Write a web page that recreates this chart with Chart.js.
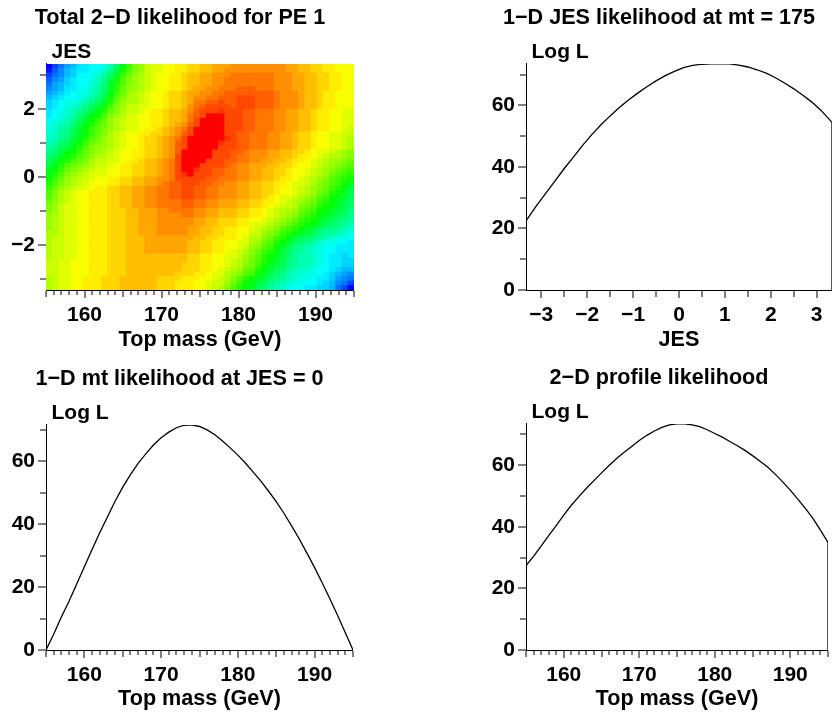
<!DOCTYPE html>
<html>
<head>
<meta charset="utf-8">
<script src="https://cdn.jsdelivr.net/npm/chart.js@4.4.1/dist/chart.umd.min.js"></script>
<style>
  html, body { margin: 0; background: #fff; }
  #page { position: relative; width: 833px; height: 715px; }
  canvas { position: absolute; }
</style>
</head>
<body>
<div id="page">
  <canvas id="c2d" width="416" height="357" style="left:0;top:0"></canvas>
  <canvas id="cjes" width="417" height="357" style="left:416px;top:0"></canvas>
  <canvas id="cmt" width="416" height="358" style="left:0;top:357px"></canvas>
  <canvas id="cprof" width="417" height="358" style="left:416px;top:357px"></canvas>
</div>
<script>
// top mass axis (GeV) and 2-D histogram bins
var massRange = [155, 195];
var massBins = [155.4, 156.2, 157.0, 157.8, 158.6, 159.4, 160.2, 161.0, 161.8, 162.6,
  163.4, 164.2, 165.0, 165.8, 166.6, 167.4, 168.2, 169.0, 169.8, 170.6,
  171.4, 172.2, 173.0, 173.8, 174.6, 175.4, 176.2, 177.0, 177.8, 178.6,
  179.4, 180.2, 181.0, 181.8, 182.6, 183.4, 184.2, 185.0, 185.8, 186.6,
  187.4, 188.2, 189.0, 189.8, 190.6, 191.4, 192.2, 193.0, 193.8, 194.6];
var jesEdges = [-3.333, -3.2, -3.067, -2.933, -2.8, -2.667, -2.533, -2.4, -2.267, -2.133,
  -2.0, -1.867, -1.733, -1.6, -1.467, -1.333, -1.2, -1.067, -0.933, -0.8,
  -0.667, -0.533, -0.4, -0.267, -0.133, 0, 0.133, 0.267, 0.4, 0.533,
  0.667, 0.8, 0.933, 1.067, 1.2, 1.333, 1.467, 1.6, 1.733, 1.867,
  2.0, 2.133, 2.267, 2.4, 2.533, 2.667, 2.8, 2.933, 3.067, 3.2, 3.333];

// colour-scale value of each cell, rows from JES = -3.3 (bottom) to +3.3 (top)
var colzRange = [0, 50];
var colzGrid = [
  [35,36,37,37,38,38,39,39,39,40,40,40,41,41,41,41,41,41,40,40,40,39,39,39,38,38,37,36,35,33,31,29,27,26,24,23,21,20,19,18,17,17,16,16,15,15,14,11,9,6],
  [35,36,37,37,38,38,39,39,39,40,40,40,41,41,41,41,41,41,40,40,40,39,39,39,38,38,37,36,36,34,32,30,28,27,25,24,22,21,20,19,18,18,17,17,16,15,14,12,11,9],
  [35,36,37,37,38,38,39,39,39,40,40,40,41,41,41,41,41,41,40,40,40,40,39,39,39,38,38,37,36,35,33,31,29,28,26,25,23,22,21,20,19,18,18,17,16,16,15,13,12,11],
  [36,36,37,37,38,38,38,39,39,39,40,40,40,41,41,41,41,41,41,41,41,40,40,40,39,39,38,37,37,35,34,33,31,30,28,26,24,23,22,20,19,19,18,18,17,16,15,14,13,12],
  [36,36,37,37,38,38,38,39,39,39,40,40,40,41,41,41,41,41,41,41,41,41,40,40,40,39,39,38,37,36,35,34,32,31,29,27,25,24,23,21,20,19,19,18,17,17,16,15,14,14],
  [36,36,37,37,38,38,38,39,39,39,40,40,40,41,41,41,41,41,41,41,41,41,40,40,40,39,39,38,38,37,36,35,33,32,30,28,26,25,24,22,21,20,20,19,18,17,16,16,15,15],
  [36,36,37,37,38,38,38,39,39,39,40,40,40,41,41,41,41,41,41,41,41,41,41,40,40,39,39,38,38,37,36,35,34,32,31,29,27,26,24,22,21,20,20,19,18,17,16,16,15,15],
  [35,36,36,37,37,38,38,39,39,39,40,40,40,41,41,41,41,41,41,41,41,41,41,40,40,39,39,38,38,37,37,36,34,33,31,29,28,26,25,23,21,20,20,19,18,17,16,16,15,16],
  [35,36,36,37,37,38,38,39,39,39,40,40,40,41,41,41,42,42,42,42,42,42,42,41,41,40,40,39,39,38,37,36,35,33,32,30,29,27,25,23,22,21,20,19,18,17,17,16,16,16],
  [35,36,36,37,37,38,38,39,39,39,40,40,40,41,41,41,42,42,42,42,42,42,42,41,41,40,40,39,39,38,38,37,36,34,33,31,30,28,26,24,22,21,20,19,18,17,17,16,16,16],
  [35,36,36,37,37,38,38,39,39,39,40,40,40,41,41,41,42,42,42,42,42,42,42,41,41,40,40,39,39,38,38,37,37,35,34,32,31,29,27,26,24,23,22,21,19,18,18,17,17,16],
  [35,36,36,37,37,38,38,39,39,39,40,40,40,41,41,41,42,42,42,42,42,42,42,42,41,41,40,40,39,39,39,38,37,35,35,33,32,30,29,27,25,24,23,22,21,20,19,18,18,17],
  [35,35,36,37,37,38,38,39,39,39,40,40,40,41,41,42,42,42,43,43,43,43,43,42,42,41,41,40,40,39,39,38,38,36,36,34,33,32,30,29,27,26,25,24,22,21,21,20,19,18],
  [34,35,36,37,37,38,38,39,39,39,40,40,40,41,41,42,42,42,43,43,43,43,43,42,42,41,41,40,40,39,39,38,38,37,36,35,34,33,31,30,29,27,26,25,23,22,22,21,20,19],
  [34,35,36,37,37,38,38,39,39,39,40,40,40,41,41,42,42,42,43,43,43,43,43,43,42,42,41,41,40,40,40,39,39,37,37,36,35,34,33,32,30,29,28,27,25,24,23,22,21,20],
  [34,35,36,37,37,38,38,39,39,39,40,40,40,41,41,42,42,42,43,43,43,43,43,43,42,42,41,41,40,40,40,39,39,38,38,37,36,35,34,33,32,30,29,28,26,25,24,23,22,21],
  [34,35,36,37,37,38,38,39,39,39,40,40,40,41,41,42,42,42,43,43,43,43,44,44,43,43,42,42,41,41,41,40,40,39,39,38,37,36,35,34,33,31,30,29,27,26,25,24,23,22],
  [33,34,36,37,37,38,38,39,39,39,40,40,40,41,41,42,42,42,43,43,44,44,44,44,43,43,42,42,41,41,41,40,40,39,39,38,37,36,35,35,34,32,31,30,28,27,26,25,24,22],
  [33,34,36,37,37,38,38,39,39,39,40,40,41,41,42,42,43,43,44,44,44,44,45,45,44,44,43,43,42,42,42,41,41,40,40,39,38,37,36,36,35,33,32,31,29,28,27,26,24,23],
  [32,34,35,36,37,38,38,39,39,39,40,40,41,41,42,42,43,43,44,44,44,44,45,45,44,44,43,43,42,42,42,41,41,40,40,39,39,38,37,36,35,34,33,32,30,29,27,26,25,23],
  [31,33,35,36,37,38,38,39,39,39,40,40,41,41,42,42,43,43,44,44,45,45,46,46,45,45,44,44,43,43,43,42,42,41,41,40,39,38,37,37,36,35,34,33,31,30,28,27,25,24],
  [31,33,35,36,37,38,38,39,39,39,40,40,41,41,42,42,43,43,44,44,45,45,46,46,45,45,44,44,43,43,43,42,42,41,41,40,40,39,38,38,37,36,35,34,32,31,29,28,26,24],
  [30,32,34,35,36,37,37,38,39,39,40,40,41,41,42,42,43,43,44,44,45,45,46,46,45,45,44,44,43,43,43,42,42,41,41,40,40,39,38,38,37,36,35,34,33,32,30,29,27,25],
  [29,31,33,34,35,36,37,38,38,38,39,39,40,40,41,41,42,42,43,44,45,45,46,46,46,45,45,44,44,43,43,42,42,41,41,40,40,39,39,38,37,37,36,35,33,32,31,30,28,26],
  [28,30,32,34,35,36,36,37,38,38,39,39,40,40,41,41,42,42,43,43,44,46,46,46,46,46,45,45,44,44,44,43,43,42,42,41,41,40,39,39,38,37,36,35,34,33,31,30,29,28],
  [27,29,31,33,34,35,36,37,37,37,38,38,39,39,40,40,41,41,42,43,44,46,47,49,46,46,46,45,45,44,44,43,43,42,42,41,41,40,40,39,38,38,37,36,35,34,32,31,30,29],
  [26,28,30,32,33,34,35,36,37,37,38,38,39,39,40,40,41,41,42,43,44,46,49,49,47,46,46,45,45,44,44,43,43,42,42,41,41,40,40,39,38,38,37,36,35,34,33,32,31,30],
  [25,27,29,31,32,33,34,35,36,36,37,38,39,39,40,40,41,41,42,43,44,46,49,49,49,46,46,46,46,45,44,43,43,42,42,42,41,41,40,40,39,38,38,37,36,35,34,33,32,31],
  [24,26,28,29,31,32,33,35,36,36,37,37,38,39,39,40,41,41,42,43,44,46,49,49,49,49,46,46,46,45,45,44,44,43,43,42,42,41,41,40,39,39,38,37,36,35,34,34,33,32],
  [23,24,26,28,29,31,32,34,35,35,36,37,38,38,39,39,40,40,41,42,43,46,49,49,49,49,49,46,46,46,45,44,44,43,43,43,42,42,41,41,40,39,39,38,37,36,35,35,34,33],
  [22,23,25,27,28,30,32,33,34,35,36,37,38,38,39,39,40,40,41,42,43,45,49,49,49,49,49,46,46,46,45,45,44,43,43,43,42,42,41,41,40,40,39,38,37,37,36,35,34,33],
  [21,22,24,25,27,29,31,33,34,34,35,36,37,38,38,39,40,40,41,42,43,45,46,49,49,49,49,49,46,46,46,45,45,44,44,44,43,43,42,42,41,40,40,39,38,38,37,37,36,35],
  [20,21,23,24,26,28,30,32,33,34,35,36,37,38,38,39,40,40,41,42,43,45,46,49,49,49,49,49,47,46,46,45,45,44,44,44,43,43,42,42,41,40,40,39,38,38,37,37,36,35],
  [19,20,22,23,25,27,29,31,32,34,35,36,37,38,38,39,40,40,41,42,43,44,46,49,49,49,49,49,49,47,46,45,45,44,44,44,43,43,42,42,41,40,40,39,38,38,37,37,36,35],
  [19,20,21,22,24,26,28,30,32,33,35,36,37,38,38,39,39,40,40,41,42,43,45,46,49,49,49,49,49,46,46,45,45,44,44,44,43,43,42,42,41,40,40,39,38,38,37,37,36,36],
  [18,19,21,22,24,26,28,30,31,33,34,35,36,37,37,38,39,39,40,41,42,43,44,46,49,49,49,49,49,46,46,46,45,45,44,44,44,43,43,42,42,41,41,40,39,39,38,38,37,36],
  [18,19,20,21,23,25,27,29,31,32,34,35,36,37,37,38,38,39,39,40,41,42,43,45,46,49,49,49,49,46,46,46,45,45,44,44,44,43,43,42,42,41,41,40,39,39,38,38,37,37],
  [17,18,19,20,22,24,26,28,30,32,34,35,36,37,37,38,38,39,39,40,41,41,42,44,46,49,49,49,49,46,46,46,45,45,44,44,44,43,43,42,42,41,41,40,39,39,38,38,37,37],
  [16,17,18,19,21,23,25,27,28,31,33,34,35,37,37,38,38,39,39,40,41,41,42,44,45,46,49,49,49,46,46,46,45,45,44,44,44,43,43,42,42,41,41,40,39,39,38,38,37,37],
  [16,17,18,19,20,22,23,25,27,29,32,33,35,36,36,37,38,39,39,40,41,41,42,43,45,46,46,46,47,46,46,46,45,45,44,44,44,43,43,42,42,41,41,40,39,39,38,38,37,37],
  [15,16,17,18,19,20,22,24,25,28,30,33,34,36,36,37,37,38,38,39,40,40,41,43,44,45,46,46,46,46,45,46,46,46,45,45,45,44,43,43,43,42,41,41,40,39,39,38,38,38],
  [15,16,17,18,18,19,20,22,24,26,29,32,34,35,35,36,37,38,38,39,40,40,41,42,44,44,45,45,46,45,45,46,46,46,45,45,45,44,43,43,43,42,41,41,40,39,39,38,38,38],
  [14,15,16,17,17,18,19,21,22,25,28,31,33,35,35,36,37,38,38,39,40,40,41,42,43,43,44,44,45,45,45,46,46,46,45,45,45,44,43,43,43,42,41,41,40,39,39,38,38,38],
  [13,14,15,16,17,18,18,20,21,24,27,30,32,34,35,36,37,38,38,39,40,40,41,42,42,43,43,44,44,45,45,45,45,45,45,45,45,44,43,43,43,42,41,41,40,39,39,38,38,38],
  [12,13,14,16,16,17,18,19,21,23,26,29,32,34,34,35,36,37,38,38,39,39,40,41,42,42,43,43,44,44,44,45,45,45,44,44,44,43,43,43,42,42,41,41,40,40,39,39,38,38],
  [11,13,14,15,16,17,17,19,20,23,26,29,31,33,34,35,36,37,38,38,39,39,40,41,41,42,42,43,43,44,44,44,44,44,44,44,44,43,43,43,42,42,41,41,40,40,39,39,38,38],
  [10,12,13,15,16,17,17,18,20,22,25,28,31,33,34,35,36,37,38,38,39,39,40,41,41,42,42,43,43,44,44,44,44,44,44,44,44,43,43,43,42,42,41,41,40,40,39,39,38,38],
  [9,11,12,14,15,17,17,18,19,21,23,26,30,32,34,35,36,37,38,38,39,39,40,41,41,42,42,43,43,43,44,44,44,44,44,44,44,43,43,43,42,42,41,41,40,40,39,39,38,38],
  [7,10,12,14,15,16,16,17,18,19,22,25,28,31,33,34,36,37,37,38,38,39,39,40,40,41,41,42,42,43,43,43,43,43,43,43,43,43,43,42,42,41,41,40,40,39,39,38,38,38],
  [6,9,11,13,14,16,16,17,17,18,20,23,27,30,33,34,36,37,37,38,38,39,39,40,40,41,41,42,42,42,43,43,43,43,43,43,43,43,43,42,42,41,41,40,40,39,39,38,38,38]
];

// 1-D JES slice at mt = 175
var jesPoints = [-3.333, -3.1, -2.9, -2.7, -2.5, -2.3, -2.1, -1.9, -1.7, -1.5, -1.3, -1.1, -0.9, -0.7, -0.5, -0.3, -0.1,
  0.1, 0.3, 0.5, 0.7, 0.9, 1.1, 1.3, 1.5, 1.7, 1.9, 2.1, 2.3, 2.5, 2.7, 2.9, 3.1, 3.333, 3.333];
var jesLogL = [22.5, 27.5, 31.5, 35.5, 39.5, 43.2, 47, 50.5, 53.7, 56.6, 59.3, 61.8, 64, 66.1, 68, 69.7, 71.1,
  72.3, 73.0, 73.4, 73.5, 73.5, 73.5, 73.1, 72.5, 71.6, 70.5, 69, 67.3, 65.4, 63.3, 61, 58.3, 54.5, 0];

// 1-D mt slice at JES = 0
var mtPoints = [155, 156, 157, 158, 159, 160, 161, 162, 163, 164, 165, 166, 167, 168, 169, 170, 171, 172, 173, 174,
  175, 176, 177, 178, 179, 180, 181, 182, 183, 184, 185, 186, 187, 188, 189, 190, 191, 192, 193, 194, 195];
var mtLogL = [0, 5, 10.5, 15.5, 21, 26.5, 32, 37.3, 42.3, 47.3, 51.8, 55.8, 59.4, 62.4, 65.2, 67.5, 69.3, 70.7, 71.5, 71.6,
  71.1, 70, 68.5, 66.5, 64.3, 62, 59.4, 56.6, 53.7, 50.5, 47.2, 43.5, 39.5, 35.3, 30.8, 26.2, 21.3, 16.2, 11, 5.5, 0];

// 2-D profile likelihood
var profilePoints = [155, 156, 157, 158, 159, 160, 161, 162, 163, 164, 165, 166, 167, 168, 169, 170, 171, 172, 173, 174,
  175, 176, 177, 178, 179, 180, 181, 182, 183, 184, 185, 186, 187, 188, 189, 190, 191, 192, 193, 194, 195, 195];
var profileLogL = [27.4, 30.4, 33.7, 37.1, 40.4, 43.8, 47, 49.8, 52.5, 55, 57.5, 59.9, 62.2, 64.2, 66.1, 68, 69.7, 71.1, 72.3, 73.1,
  73.4, 73.4, 73.1, 72.5, 71.5, 70.3, 69.1, 67.7, 66.3, 64.8, 63.1, 61.3, 59.4, 57.1, 54.6, 51.9, 49, 46, 42.7, 38.9, 34.9, 0];

var font = {family: '"Liberation Sans", Arial, Helvetica, sans-serif', size: 21, weight: 'bold'};
var titleFont = {family: '"Liberation Sans", Arial, Helvetica, sans-serif', size: 21.6, weight: 'bold'};

// ROOT "pretty" palette: 50 colours from violet (hue 280) down to red
function rootColor(z) {
  var i = Math.floor(50 * (z - colzRange[0]) / (colzRange[1] - colzRange[0]));
  i = Math.max(0, Math.min(49, i));
  return 'hsl(' + (280 - (i + 1) * 5.6) + ',100%,50%)';
}

function fmt(v) {
  return v < 0 ? '\u2212' + Math.abs(v) : String(v);
}

var yTitle = {
  id: 'yTitle',
  afterDraw: function (chart, args, opts) {
    var ctx = chart.ctx, area = chart.chartArea;
    ctx.save();
    ctx.font = 'bold 21px "Liberation Sans", Arial, sans-serif';
    ctx.fillStyle = '#000';
    ctx.textAlign = 'left';
    ctx.textBaseline = 'alphabetic';
    ctx.fillText(opts.text, area.left + 5.5, area.top - 5.5);
    ctx.restore();
  }
};

// grid lineWidth 0: no grid is drawn and bars are not shifted off the zero line
function xAxis(min, max, step, label, tickLen, title, height, titlePad) {
  return {
    type: 'linear', min: min, max: max, offset: false,
    border: {display: true, color: '#000', width: 1},
    grid: {
      drawOnChartArea: false, offset: false, lineWidth: 0, tickLength: 8, tickColor: '#000', tickWidth: 1,
      tickBorderDash: function (c) { var l = tickLen(c.tick.value); return l >= 8 ? [] : [l, 20]; }
    },
    ticks: {stepSize: step, autoSkip: false, maxRotation: 0, includeBounds: false, padding: 5, color: '#000', font: font, callback: label},
    title: {display: true, text: title, color: '#000', font: titleFont, padding: {top: 0, bottom: titlePad}},
    afterFit: function (s) { s.height = height; }
  };
}

function yAxis(min, max, step, label, tickLen) {
  return {
    type: 'linear', min: min, max: max,
    border: {display: true, color: '#000', width: 1},
    grid: {
      drawOnChartArea: false, lineWidth: 0, tickLength: 8, tickColor: '#000', tickWidth: 1,
      tickBorderDash: function (c) { var l = tickLen(c.tick.value); return l >= 8 ? [] : [0, 8 - l, l, 20]; }
    },
    ticks: {stepSize: step, autoSkip: false, includeBounds: false, padding: 3, color: '#000', font: font, callback: label},
    afterFit: function (s) { s.width = 40; }
  };
}

function panelTitle(text, top) {
  return {display: true, text: text, color: '#000', font: titleFont, padding: {top: top, bottom: 33}};
}

var massLabel = function (v) { return v % 10 === 0 ? String(v) : ''; };
var massTick = function (v) { return v % 10 === 0 ? 8 : (v % 5 === 0 ? 6 : 4); };
var logLabel = function (v) { return v % 20 === 0 ? String(v) : ''; };
var logTick = function (v) { return v % 20 === 0 ? 8 : 6; };

// 2-D likelihood map, one floating-bar dataset per JES row
var heatSets = colzGrid.map(function (row, r) {
  return {
    data: row.map(function (z, c) { return {x: massBins[c], y: [jesEdges[r], jesEdges[r + 1]]}; }),
    backgroundColor: row.map(rootColor),
    borderWidth: 0,
    grouped: false,
    barPercentage: 1,
    categoryPercentage: 1
  };
});

var chart1 = new Chart(document.getElementById('c2d'), {
  type: 'bar',
  data: {datasets: heatSets},
  options: {
    responsive: false, animation: false, events: [],
    layout: {autoPadding: false, padding: {left: 6, right: 62, top: 0, bottom: 0}},
    plugins: {
      legend: {display: false}, tooltip: {enabled: false},
      title: panelTitle('Total 2\u2212D likelihood for PE 1', 5),
      yTitle: {text: 'JES'}
    },
    scales: {
      x: xAxis(massRange[0], massRange[1], 1, massLabel, massTick, 'Top mass (GeV)', 67, 4),
      y: yAxis(jesEdges[0], jesEdges[jesEdges.length - 1], 1,
        function (v) { return v % 2 === 0 ? fmt(v) : ''; },
        function (v) { return v % 2 === 0 ? 8 : 6; })
    }
  },
  plugins: [yTitle]
});

function curve(xs, ys) {
  return [{
    data: xs.map(function (x, i) { return {x: x, y: ys[i]}; }),
    borderColor: '#000', borderWidth: 1.3, pointRadius: 0, fill: false, tension: 0
  }];
}

function curveChart(id, xs, ys, title, titleTop, padLeft, padRight, xScale) {
  return new Chart(document.getElementById(id), {
    type: 'line',
    data: {datasets: curve(xs, ys)},
    options: {
      responsive: false, animation: false, events: [],
      layout: {autoPadding: false, padding: {left: padLeft, right: padRight, top: 0, bottom: 0}},
      plugins: {
        legend: {display: false}, tooltip: {enabled: false},
        title: panelTitle(title, titleTop),
        yTitle: {text: 'Log L'}
      },
      scales: {
        x: xScale,
        y: yAxis(0, Math.max.apply(null, ys), 10, logLabel, logTick)
      }
    },
    plugins: [yTitle]
  });
}

var chart2 = curveChart('cjes', jesPoints, jesLogL, '1\u2212D JES likelihood at mt = 175', 5, 70, 1,
  xAxis(jesEdges[0], jesEdges[jesEdges.length - 1], 0.5,
    function (v) { return Number.isInteger(v) ? fmt(v) : ''; },
    function (v) { return Number.isInteger(v) ? 8 : 6; }, 'JES', 67, 4));

var chart3 = curveChart('cmt', mtPoints, mtLogL, '1\u2212D mt likelihood at JES = 0', 9, 6, 63,
  xAxis(massRange[0], massRange[1], 1, massLabel, massTick, 'Top mass (GeV)', 65, 3));

var chart4 = curveChart('cprof', profilePoints, profileLogL, '2\u2212D profile likelihood', 8, 70, 1,
  xAxis(massRange[0], massRange[1], 1, massLabel, massTick, 'Top mass (GeV)', 65, 3));
</script>
</body>
</html>
